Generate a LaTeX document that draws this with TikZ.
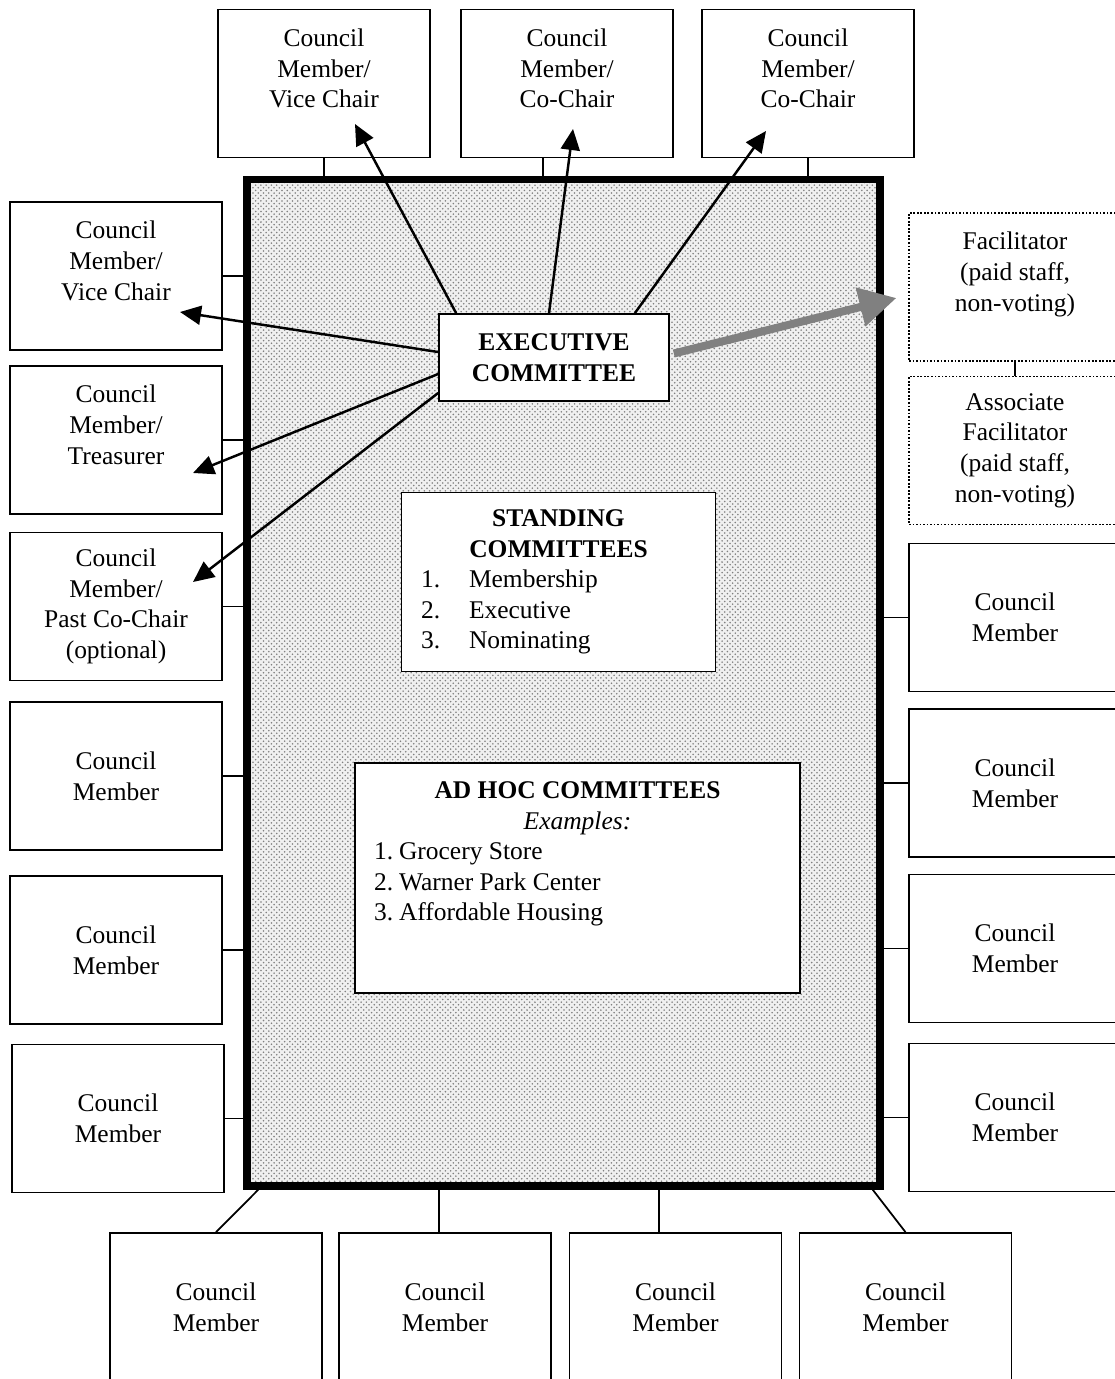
\documentclass[tikz,border=0pt]{standalone}
\usepackage{fontspec}
\setmainfont{Liberation Serif}
\usetikzlibrary{arrows.meta,patterns}

\tikzset{
  box/.style={draw, line width=1pt, fill=white, align=center, inner sep=0pt,
    minimum width=4.24cm, minimum height=2.96cm},
  staff/.style={box, densely dotted, line width=0.7pt},
  panel/.style={draw, line width=1pt, fill=white, align=center, inner sep=0pt},
  link/.style={line width=1pt},
  pointer/.style={->, line width=1.4pt},
  >={Triangle[length=0.42cm,width=0.38cm]}
}

\begin{document}
\begin{tikzpicture}[x=0.02cm, y=-0.02cm, font=\fontsize{14.5}{17.4}\selectfont]
\useasboundingbox (0,0) rectangle (1115,1379);

\node[draw, line width=0.15cm, minimum width=12.66cm, minimum height=20.13cm,
  preaction={fill=gray!12}, pattern=crosshatch dots, pattern color=gray] (council) at (563.5,682.75) {};

\node[box] (t1) at (324,83.5) {Council\\Member/\\Vice Chair\\\mbox{}};
\node[box] (t2) at (567,83.5) {Council\\Member/\\Co-Chair\\\mbox{}};
\node[box] (t3) at (808,83.5) {Council\\Member/\\Co-Chair\\\mbox{}};

\node[box] (l1) at (116,276) {Council\\Member/\\Vice Chair\\\mbox{}};
\node[box] (l2) at (116,440) {Council\\Member/\\Treasurer\\\mbox{}};
\node[box] (l3) at (116,606.5) {Council\\Member/\\Past Co-Chair\\(optional)};
\node[box] (l4) at (116,776) {Council\\Member};
\node[box] (l5) at (116,950) {Council\\Member};
\node[box] (l6) at (118,1118.5) {Council\\Member};

\node[staff] (fac) at (1015,287) {Facilitator\\(paid staff,\\non-voting)\\\mbox{}};
\node[staff] (assoc) at (1015,450.5) {Associate\\Facilitator\\(paid staff,\\non-voting)};
\node[box] (r1) at (1015,617.5) {Council\\Member};
\node[box] (r2) at (1015,783) {Council\\Member};
\node[box] (r3) at (1015,948.5) {Council\\Member};
\node[box] (r4) at (1015,1117.5) {Council\\Member};

\node[box] (b1) at (216,1307) {Council\\Member};
\node[box] (b2) at (445,1307) {Council\\Member};
\node[box] (b3) at (675.5,1307) {Council\\Member};
\node[box] (b4) at (905.5,1307) {Council\\Member};

\node[panel, minimum width=4.6cm, minimum height=1.74cm] (exec) at (554,357.5)
  {\textbf{EXECUTIVE}\\\textbf{COMMITTEE}};
\node[panel, minimum width=6.28cm, minimum height=3.58cm] (standing) at (558.5,582)
  {\textbf{STANDING}\\\textbf{COMMITTEES}\\
   \makebox[5.5cm][l]{\makebox[0.96cm][l]{1.}Membership}\\
   \makebox[5.5cm][l]{\makebox[0.96cm][l]{2.}Executive}\\
   \makebox[5.5cm][l]{\makebox[0.96cm][l]{3.}Nominating}};
\node[panel, minimum width=8.9cm, minimum height=4.6cm] (adhoc) at (577.5,878)
  {\textbf{AD HOC COMMITTEES}\\\textit{Examples:}\\
   \makebox[8.14cm][l]{\makebox[0.5cm][l]{1.}Grocery Store}\\
   \makebox[8.14cm][l]{\makebox[0.5cm][l]{2.}Warner Park Center}\\
   \makebox[8.14cm][l]{\makebox[0.5cm][l]{3.}Affordable Housing}\\\mbox{}\\[-0.15cm]\mbox{}};

\coordinate (t2c) at ([xshift=-0.48cm]t2.south);
\draw[link] (t1.south) -- (t1.south |- council.north);
\draw[link] (t2c) -- (t2c |- council.north);
\draw[link] (t3.south) -- (t3.south |- council.north);
\draw[link] (l1.east) -- (l1.east -| council.west);
\draw[link] (l2.east) -- (l2.east -| council.west);
\draw[link] (l3.east) -- (l3.east -| council.west);
\draw[link] (l4.east) -- (l4.east -| council.west);
\draw[link] (l5.east) -- (l5.east -| council.west);
\draw[link] (l6.east) -- (l6.east -| council.west);
\draw[link] (r1.west) -- (r1.west -| council.east);
\draw[link] (r2.west) -- (r2.west -| council.east);
\draw[link] (r3.west) -- (r3.west -| council.east);
\draw[link] (r4.west) -- (r4.west -| council.east);
\draw[line width=0.6pt] (fac.south) -- (assoc.north);

\coordinate (b2c) at ([xshift=-0.12cm]b2.north);
\coordinate (b3c) at ([xshift=-0.33cm]b3.north);
\draw[link] (b1.north) -- ([xshift=0.3cm]council.south west);
\draw[link] (b2c) -- (b2c |- council.south);
\draw[link] (b3c) -- (b3c |- council.south);
\draw[link] (b4.north) -- ([xshift=-0.22cm]council.south east);

\draw[pointer] ([xshift=0.36cm]exec.north west) -- ([shift={(31,40.5)}]t1.center);
\draw[pointer] ([xshift=-0.1cm]exec.north) -- ([shift={(6,45.5)}]t2.center);
\draw[pointer] ([xshift=-0.7cm]exec.north east) -- ([shift={(-42,47.5)}]t3.center);
\draw[pointer] ([yshift=0.11cm]exec.west) -- ([shift={(64,36)}]l1.center);
\draw[pointer] ([yshift=-0.33cm]exec.west) -- ([shift={(77,33)}]l2.center);
\draw[pointer] ([yshift=-0.71cm]exec.west) -- ([shift={(77,-24.5)}]l3.center);
\draw[line width=0.16cm, gray, -{Triangle[length=0.74cm,width=0.76cm]}]
  ([shift={(4,-4)}]exec.east) -- ([shift={(-12,11)}]fac.west);
\end{tikzpicture}
\end{document}
